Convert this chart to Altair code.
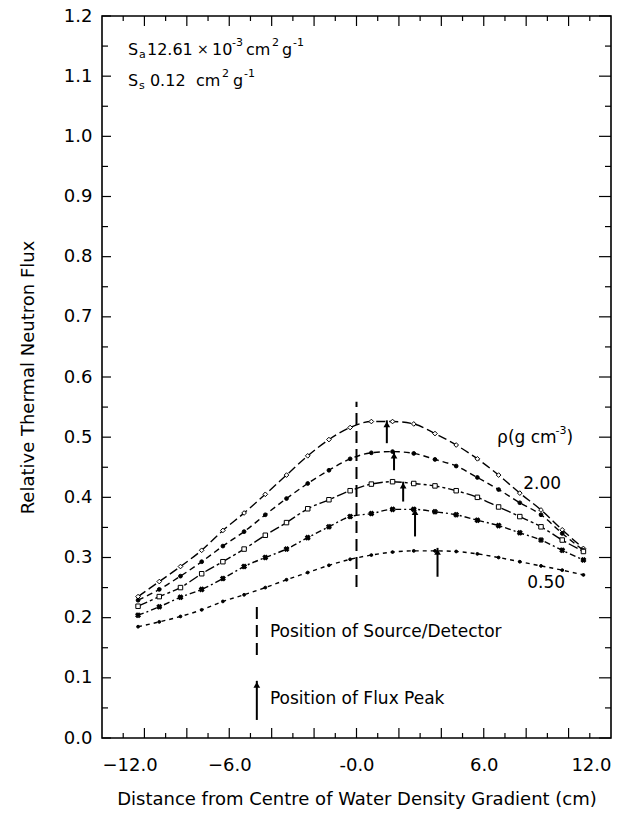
import altair as alt
import pandas as pd

FONT = "DejaVu Sans"

# ---------------- data ----------------
x_pos = [-10.3, -9.3, -8.3, -7.3, -6.3, -5.3, -4.3, -3.3, -2.3, -1.3, -0.3,
         0.7, 1.7, 2.7, 3.7, 4.7, 5.7, 6.7, 7.7, 8.7, 9.7, 10.7]

flux_a = [0.235, 0.260, 0.285, 0.312, 0.345, 0.374, 0.405, 0.437, 0.469, 0.496, 0.516,
          0.526, 0.526, 0.522, 0.506, 0.487, 0.464, 0.437, 0.407, 0.379, 0.346, 0.315]
flux_b = [0.229, 0.247, 0.269, 0.293, 0.319, 0.343, 0.371, 0.398, 0.423, 0.445, 0.464,
          0.474, 0.476, 0.473, 0.463, 0.452, 0.433, 0.413, 0.391, 0.371, 0.340, 0.312]
flux_c = [0.219, 0.235, 0.250, 0.273, 0.293, 0.314, 0.337, 0.358, 0.381, 0.396, 0.411,
          0.422, 0.426, 0.423, 0.419, 0.411, 0.400, 0.384, 0.368, 0.351, 0.329, 0.310]
flux_d = [0.204, 0.218, 0.234, 0.247, 0.265, 0.285, 0.300, 0.314, 0.333, 0.351, 0.368,
          0.373, 0.380, 0.380, 0.376, 0.371, 0.362, 0.353, 0.341, 0.329, 0.312, 0.296]
flux_e = [0.185, 0.193, 0.202, 0.213, 0.227, 0.238, 0.250, 0.263, 0.275, 0.287, 0.297,
          0.304, 0.309, 0.311, 0.311, 0.310, 0.306, 0.300, 0.293, 0.286, 0.279, 0.271]

# flux peak arrows (x, tail, tip)
peak_x = [1.43, 1.77, 2.2, 2.76, 3.82]
peak_tail = [0.490, 0.445, 0.393, 0.335, 0.268]
peak_tip = [0.528, 0.476, 0.426, 0.382, 0.316]

# source / detector position
src_x = [0.0]
src_y0 = [0.251]
src_y1 = [0.559]

# tick positions
y_label_vals = [0.0, 0.1, 0.2, 0.3, 0.4, 0.5, 0.6, 0.7, 0.8, 0.9, 1.0, 1.1, 1.2]
y_minor_vals = [0.05, 0.15, 0.25, 0.35, 0.45, 0.55, 0.65, 0.75, 0.85, 0.95, 1.05, 1.15]
x_label_vals = [-12, -6, 0, 6, 12]
x_major_vals = [-10, -8, -6, -4, -2, 0, 2, 4, 6, 8, 10]
x_minor_vals = [-11, -9, -7, -5, -3, -1, 1, 3, 5, 7, 9, 11]

# annotation pieces: text, x (data), y (data), font size, vertical shift (px)
ann_text = ["S", "a", "12.61", "×", "10", "-3", "cm", "2", "g", "-1",
            "S", "s", "0.12", "cm", "2", "g", "-1",
            "ρ(g cm", "-3", ")", "2.00", "0.50",
            "Position of Source/Detector", "Position of Flux Peak"]
ann_x = [-10.77, -10.26, -9.88, -7.52, -6.81, -5.87, -5.21, -3.98, -3.51, -2.99,
         -10.77, -10.26, -9.74, -7.57, -6.34, -5.82, -5.30,
         6.63, 9.38, 9.90, 7.86, 8.05,
         -4.08, -4.08]
ann_y = [1.143] * 10 + [1.092] * 7 + [0.499, 0.499, 0.499, 0.422, 0.258, 0.176, 0.065]
ann_size = [16, 11, 16, 14, 16, 11, 16, 11, 16, 11,
            16, 11, 16, 16, 11, 16, 11,
            17, 11, 17, 17, 17, 17, 17]
ann_dy = [0, 5, 0, 0, 0, -7, 0, -7, 0, -7,
          0, 5, 0, 0, -7, 0, -7,
          0, -7, 0, 0, 0, 0, 0]

W, H = 509, 722

xs = alt.Scale(domain=[-12, 12], nice=False, zero=False)
ys = alt.Scale(domain=[0, 1.2], nice=False, zero=False)

x_axis = alt.Axis(values=x_label_vals, labelExpr="datum.value == 0 ? '-0.0' : format(datum.value, '.1f')",
                  ticks=False, domain=False, grid=False, labelFontSize=18, labelFont=FONT,
                  labelColor="black", labelPadding=18, titleFontSize=18, titleFont=FONT,
                  titleFontWeight="normal", titleColor="black", titlePadding=16)
y_axis = alt.Axis(values=y_label_vals, format=".1f", ticks=False, domain=False, grid=False,
                  labelFontSize=18, labelFont=FONT, labelColor="black", labelPadding=10,
                  titleFontSize=18, titleFont=FONT, titleFontWeight="normal", titleColor="black",
                  titlePadding=26)

X = alt.X("x:Q", scale=xs, axis=x_axis, title="Distance from Centre of Water Density Gradient (cm)")
Y = alt.Y("y:Q", scale=ys, axis=y_axis, title="Relative Thermal Neutron Flux")

layers = []

specs = [
    (flux_a, [9, 4], "diamond", "white", 22),
    (flux_b, [6, 4], "circle", "black", 14),
    (flux_c, [10, 3, 3, 3], "square", "white", 20),
    (flux_d, [6, 3, 2, 3], "cross", "black", 22),
    (flux_e, [4, 4], "circle", "black", 8),
]
for vals, dash, shape, fill, size in specs:
    df = pd.DataFrame({"x": x_pos, "y": vals})
    layers.append(alt.Chart(df).mark_line(color="black", strokeWidth=1.4, strokeDash=dash,
                                          interpolate="monotone").encode(x=X, y=Y))
    angle = 45 if shape == "cross" else 0
    layers.append(alt.Chart(df).mark_point(shape=shape, filled=True, fill=fill, stroke="black",
                                           strokeWidth=1, size=size, angle=angle, opacity=1).encode(x=X, y=Y))

# flux peak arrows
pk = pd.DataFrame({"x": peak_x, "y": peak_tail, "y2": peak_tip})
layers.append(alt.Chart(pk).mark_rule(color="black", strokeWidth=2).encode(x=X, y=Y, y2="y2:Q"))
pk_head = pd.DataFrame({"x": peak_x, "y": peak_tip})
layers.append(alt.Chart(pk_head).mark_point(shape="triangle-up", filled=True, color="black", size=45,
                                            opacity=1, yOffset=4).encode(x=X, y=Y))

# source/detector line
sd = pd.DataFrame({"x": src_x, "y": src_y0, "y2": src_y1})
layers.append(alt.Chart(sd).mark_rule(color="black", strokeWidth=2, strokeDash=[12, 6]).encode(x=X, y=Y, y2="y2:Q"))

# legend symbols
leg_sd = pd.DataFrame({"x": [-4.7], "y": [0.138], "y2": [0.218]})
layers.append(alt.Chart(leg_sd).mark_rule(color="black", strokeWidth=2, strokeDash=[12, 6]).encode(x=X, y=Y, y2="y2:Q"))
leg_pk = pd.DataFrame({"x": [-4.7], "y": [0.03], "y2": [0.095]})
layers.append(alt.Chart(leg_pk).mark_rule(color="black", strokeWidth=2).encode(x=X, y=Y, y2="y2:Q"))
leg_head = pd.DataFrame({"x": [-4.7], "y": [0.095]})
layers.append(alt.Chart(leg_head).mark_point(shape="triangle-up", filled=True, color="black", size=45,
                                             opacity=1, yOffset=4).encode(x=X, y=Y))

# annotations
for t, ax, ay, sz, dy in zip(ann_text, ann_x, ann_y, ann_size, ann_dy):
    d = pd.DataFrame({"x": [ax], "y": [ay], "t": [t]})
    layers.append(alt.Chart(d).mark_text(align="left", baseline="middle", fontSize=sz, font=FONT,
                                         color="black", dy=dy).encode(x=X, y=Y, text="t:N"))

# inward ticks on all four sides
def hticks(vals, x0, x1):
    return alt.Chart(pd.DataFrame({"y": vals})).mark_rule(color="black", strokeWidth=1.2).encode(
        y=Y, x=alt.value(x0), x2=alt.value(x1))

def vticks(vals, y0, y1):
    return alt.Chart(pd.DataFrame({"x": vals})).mark_rule(color="black", strokeWidth=1.2).encode(
        x=X, y=alt.value(y0), y2=alt.value(y1))

layers += [
    hticks(y_label_vals, 0, 9), hticks(y_minor_vals, 0, 6),
    hticks(y_label_vals, W, W - 12), hticks(y_minor_vals, W, W - 6),
    vticks(x_major_vals, H, H - 10), vticks(x_minor_vals, H, H - 5),
    vticks(x_major_vals, 0, 10), vticks(x_minor_vals, 0, 5),
]

chart = alt.layer(*layers).properties(
    width=W, height=H,
    padding={"left": 102, "top": 16, "right": 24, "bottom": 78},
    autosize="none",
    background="white",
).configure_view(stroke="black", strokeWidth=1.6)

chart.save("out.html", embed_options={"renderer": "svg", "actions": False})
